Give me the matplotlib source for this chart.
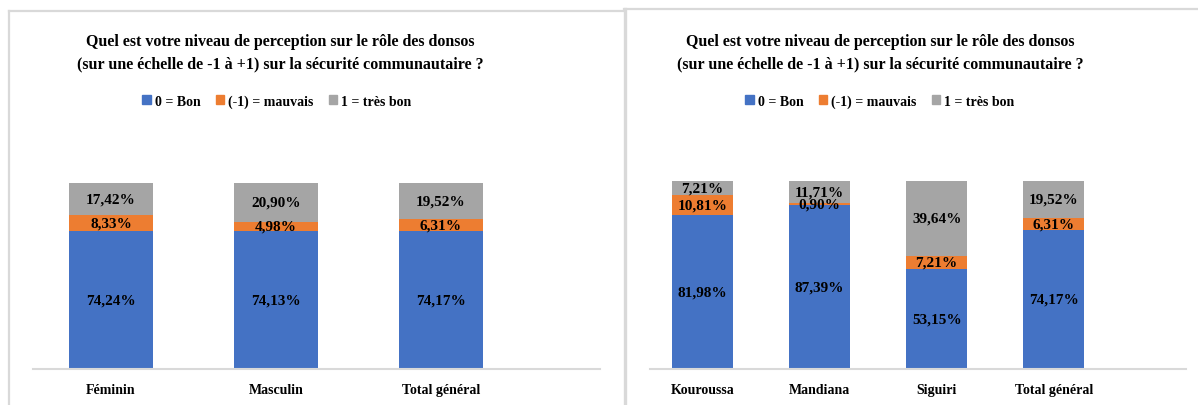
import matplotlib
matplotlib.use('Agg')
import matplotlib.pyplot as plt
from matplotlib.lines import Line2D
from matplotlib.patches import Patch
import numpy as np

plt.rcParams['font.family'] = ['Liberation Serif', 'DejaVu Serif']
plt.rcParams['font.weight'] = 'bold'

# données : panneau gauche (sexe)
cats_sexe = ['Féminin', 'Masculin', 'Total général']
bon_sexe = [74.24, 74.13, 74.17]
mauvais_sexe = [8.33, 4.98, 6.31]
tres_bon_sexe = [17.42, 20.90, 19.52]

# données : panneau droit (préfecture)
cats_pref = ['Kouroussa', 'Mandiana', 'Siguiri', 'Total général']
bon_pref = [81.98, 87.39, 53.15, 74.17]
mauvais_pref = [10.81, 0.90, 7.21, 6.31]
tres_bon_pref = [7.21, 11.71, 39.64, 19.52]

series_names = ['0 = Bon', '(-1) = mauvais', '1 = très bon']
colors = ['#4472C4', '#ED7D31', '#A5A5A5']
title = ("Quel est votre niveau de perception sur le rôle des donsos\n"
         "(sur une échelle de -1 à +1) sur la sécurité communautaire ?")

W, H = 1198, 406
fig = plt.figure(figsize=(W / 100, H / 100), dpi=100)


def fx(px):
    return px / W


def fy(py):
    return 1 - py / H


def draw_panel(rect, cats, series, xlim, width, title_x, legend_x):
    ax = fig.add_axes(rect)
    x = np.arange(len(cats))
    bottom = np.zeros(len(cats))
    for vals, col in zip(series, colors):
        vals = np.array(vals)
        ax.bar(x, vals, width, bottom=bottom, color=col)
        for xi, b, v in zip(x, bottom, vals):
            ax.text(xi, b + v / 2, f"{v:.2f}%".replace('.', ','),
                    ha='center', va='center', fontsize=11, fontweight='bold')
        bottom += vals
    ax.set_xlim(*xlim)
    ax.set_ylim(0, 100)
    ax.set_xticks(x)
    ax.set_xticklabels(cats, fontsize=10, fontweight='bold')
    ax.tick_params(axis='x', length=0, pad=10)
    ax.set_yticks([])
    for s in ['top', 'left', 'right']:
        ax.spines[s].set_visible(False)
    ax.spines['bottom'].set_color('#D9D9D9')
    ax.spines['bottom'].set_linewidth(1.5)
    fig.text(title_x, fy(53), title, ha='center', va='center', fontsize=11.5,
             fontweight='bold', linespacing=1.5)
    handles = [Patch(color=c) for c in colors]
    fig.legend(handles, series_names, loc='center', ncol=3,
               bbox_to_anchor=(legend_x, fy(102)), frameon=False,
               handlelength=0.6, handleheight=0.6,
               handletextpad=0.3, columnspacing=1.1,
               prop={'weight': 'bold', 'size': 10})
    return ax


# cadre du panneau gauche
fig.add_artist(Line2D([fx(9), fx(9)], [fy(12), 0], color='#D9D9D9', lw=1.6,
                      transform=fig.transFigure))
fig.add_artist(Line2D([fx(9), fx(624)], [fy(12), fy(12)], color='#D9D9D9',
                      lw=1.6, transform=fig.transFigure))

draw_panel([fx(33), fy(370), fx(600) - fx(33), fy(184) - fy(370)],
           cats_sexe, [bon_sexe, mauvais_sexe, tres_bon_sexe],
           (-0.473, 2.964), 0.51, fx(280), fx(277))

# cadre du panneau droit
fig.add_artist(Line2D([fx(624.5), fx(624.5)], [fy(10), 0], color='#D9D9D9',
                      lw=2.4, transform=fig.transFigure))
fig.add_artist(Line2D([fx(624), fx(1198)], [fy(10), fy(10)], color='#D9D9D9',
                      lw=1.6, transform=fig.transFigure))

draw_panel([fx(650), fy(370), fx(1186) - fx(650), fy(182) - fy(370)],
           cats_pref, [bon_pref, mauvais_pref, tres_bon_pref],
           (-0.449, 4.13), 0.52, fx(880), fx(880))

fig.savefig('out.png', dpi=100)
